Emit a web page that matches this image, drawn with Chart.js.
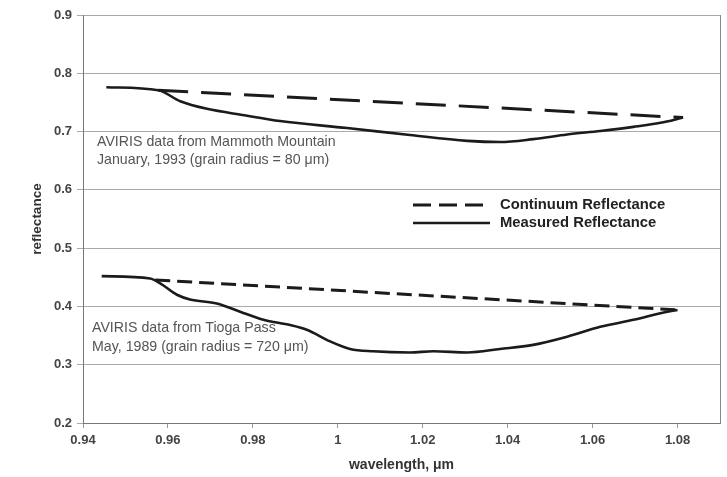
<!DOCTYPE html>
<html lang="en">
<head>
<meta charset="UTF-8">
<title>Reflectance</title>
<script src="https://cdn.jsdelivr.net/npm/chart.js@4.4.1/dist/chart.umd.min.js"></script>
<style>
  html, body { margin: 0; padding: 0; background: #fff; }
</style>
</head>
<body>
<canvas id="chart" width="727" height="477"></canvas>
<script>
// wavelength (um) and reflectance
const xTicks = [0.94, 0.96, 0.98, 1.00, 1.02, 1.04, 1.06, 1.08];

const mammothWave = [0.9455, 0.9577, 0.9629, 0.9692, 0.9780, 0.9864, 1.0022, 1.0170, 1.0305, 1.0382, 1.0460, 1.0540, 1.0618, 1.0696, 1.0760, 1.0813];
const mammothMeasured = [0.776, 0.771, 0.752, 0.739, 0.728, 0.718, 0.706, 0.694, 0.684, 0.682, 0.687, 0.695, 0.701, 0.708, 0.715, 0.724];
const mammothContWave = [0.9577, 1.0813];
const mammothContinuum = [0.771, 0.724];

const tiogaWave = [0.9444, 0.9558, 0.9581, 0.9621, 0.9652, 0.9715, 0.9770, 0.9825, 0.9888, 0.9927, 0.9982, 1.0029, 1.0083, 1.0170, 1.0225, 1.0305, 1.0382, 1.0460, 1.0540, 1.0618, 1.0696, 1.0776, 1.0800];
const tiogaMeasured = [0.452, 0.448, 0.440, 0.420, 0.412, 0.405, 0.391, 0.377, 0.368, 0.360, 0.340, 0.327, 0.323, 0.321, 0.323, 0.321, 0.327, 0.334, 0.348, 0.365, 0.377, 0.391, 0.394];
const tiogaContWave = [0.957, 1.080];
const tiogaContinuum = [0.4455, 0.394];

const legendNames = ['Continuum Reflectance', 'Measured Reflectance'];
const mammothNote = ['AVIRIS data from Mammoth Mountain', 'January, 1993 (grain radius = 80 \u03bcm)'];
const tiogaNote = ['AVIRIS data from Tioga Pass', 'May, 1989 (grain radius = 720 \u03bcm)'];

function pts(xs, ys) {
    return xs.map((x, i) => ({x: x, y: ys[i]}));
}

const ink = '#1b1b1b';

function measured(xs, ys) {
    return {
        data: pts(xs, ys),
        borderColor: ink,
        borderWidth: 2.6,
        pointRadius: 0,
        cubicInterpolationMode: 'monotone',
        fill: false
    };
}

function continuum(xs, ys, dash) {
    return {
        data: pts(xs, ys),
        borderColor: ink,
        borderWidth: 3,
        borderDash: dash,
        pointRadius: 0,
        fill: false
    };
}

// right edge of the plot box
const framePlugin = {
    id: 'frame',
    beforeDatasetsDraw(chart) {
        const a = chart.chartArea;
        const ctx = chart.ctx;
        ctx.save();
        ctx.strokeStyle = '#888';
        ctx.lineWidth = 1;
        ctx.beginPath();
        ctx.moveTo(Math.round(a.right) + 0.5, a.top);
        ctx.lineTo(Math.round(a.right) + 0.5, a.bottom);
        ctx.stroke();
        ctx.restore();
    }
};

const notesPlugin = {
    id: 'notes',
    afterDraw(chart) {
        const ctx = chart.ctx;
        ctx.save();
        ctx.font = '14.2px "Liberation Sans", Arial, sans-serif';
        ctx.fillStyle = '#555';
        ctx.textBaseline = 'middle';
        ctx.textAlign = 'left';
        mammothNote.forEach((t, i) => ctx.fillText(t, 97, 142 + i * 18.5));
        tiogaNote.forEach((t, i) => ctx.fillText(t, 92, 328 + i * 19.5));

        // legend
        const rows = [
            {name: legendNames[0], dash: [18, 8], y: 205, w: 3},
            {name: legendNames[1], dash: [], y: 223, w: 2.6}
        ];
        ctx.font = 'bold 14.8px "Liberation Sans", Arial, sans-serif';
        ctx.fillStyle = '#222';
        rows.forEach(r => {
            ctx.beginPath();
            ctx.strokeStyle = ink;
            ctx.lineWidth = r.w;
            ctx.setLineDash(r.dash);
            ctx.moveTo(413, r.y);
            ctx.lineTo(490, r.y);
            ctx.stroke();
            ctx.setLineDash([]);
            ctx.fillText(r.name, 500, r.y);
        });
        ctx.restore();
    }
};

const tickFont = {family: '"Liberation Sans", Arial, sans-serif', size: 13, weight: 'bold'};

new Chart(document.getElementById('chart'), {
    type: 'line',
    data: {
        datasets: [
            measured(mammothWave, mammothMeasured),
            continuum(mammothContWave, mammothContinuum, [30, 13]),
            measured(tiogaWave, tiogaMeasured),
            continuum(tiogaContWave, tiogaContinuum, [15, 7])
        ]
    },
    options: {
        responsive: false,
        animation: false,
        layout: {padding: {left: 0, right: 7, top: 15, bottom: 0}},
        plugins: {
            legend: {display: false},
            tooltip: {enabled: false}
        },
        scales: {
            x: {
                type: 'linear',
                min: 0.94,
                max: 1.09,
                afterBuildTicks: axis => { axis.ticks = xTicks.map(v => ({value: v})); },
                afterFit: s => { s.height = 54; },
                ticks: {
                    autoSkip: false,
                    maxRotation: 0,
                    padding: 5,
                    color: '#444',
                    font: tickFont,
                    callback: v => String(Number(v.toFixed(2)))
                },
                grid: {drawOnChartArea: false, drawTicks: true, tickLength: 5, color: '#999'},
                border: {color: '#777', width: 1},
                title: {
                    display: true,
                    text: 'wavelength, \u03bcm',
                    color: '#333',
                    font: {family: '"Liberation Sans", Arial, sans-serif', size: 14, weight: 'bold'},
                    padding: {top: 0, bottom: 3}
                }
            },
            y: {
                min: 0.2,
                max: 0.9,
                afterFit: s => { s.width = 83; },
                ticks: {
                    stepSize: 0.1,
                    padding: 5,
                    color: '#444',
                    font: tickFont,
                    callback: v => v.toFixed(1)
                },
                grid: {color: '#aaa', tickLength: 6},
                border: {color: '#777', width: 1},
                title: {
                    display: true,
                    text: 'reflectance',
                    color: '#333',
                    font: {family: '"Liberation Sans", Arial, sans-serif', size: 13.5, weight: 'bold'},
                    padding: {top: 29, bottom: 0}
                }
            }
        }
    },
    plugins: [framePlugin, notesPlugin]
});
</script>
</body>
</html>
